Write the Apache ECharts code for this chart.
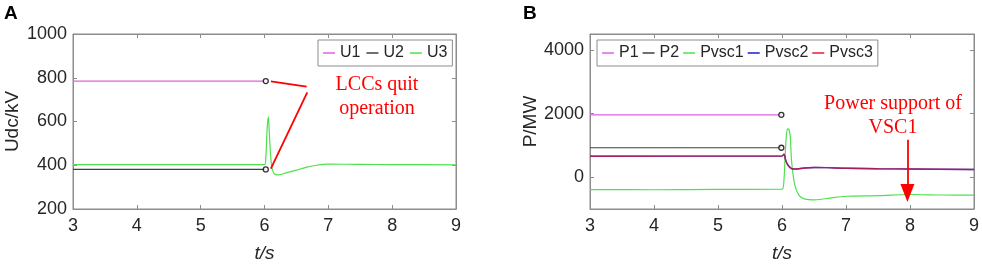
<!DOCTYPE html>
<html>
<head>
<meta charset="utf-8">
<script src="https://cdn.jsdelivr.net/npm/echarts@6/dist/echarts.min.js"></script>
<style>
  html, body { margin: 0; padding: 0; background: #fff; }
  #main { width: 982px; height: 268px; }
</style>
</head>
<body>
<div id="main"></div>
<script>
// Panel A: DC voltages (kV)
const uT1 = [3, 6.02];
const u1 = [785, 785];
const u2 = [381, 381];
const u3T = [3, 6.0, 6.02, 6.04, 6.06, 6.08, 6.11, 6.15, 6.22, 6.35, 6.5, 6.65, 6.82, 7.0, 7.5, 8, 9];
const u3 = [403, 403, 430, 560, 622, 520, 400, 362, 356, 366, 378, 390, 400, 405, 404, 403, 402];

// Panel B: powers (MW)
const pT1 = [3, 6.0];
const p1 = [1960, 1960];
const p2 = [925, 925];
const pvsc1T = [3, 4, 5, 6.0, 6.03, 6.05, 6.07, 6.09, 6.11, 6.13, 6.15, 6.2, 6.27, 6.35, 6.48, 6.7, 7.0, 7.5, 8, 8.5, 9];
const pvsc1 = [-390, -395, -385, -380, -100, 700, 1350, 1520, 1500, 1250, 500, -250, -580, -680, -715, -670, -600, -580, -545, -560, -565];
const pvscT = [3, 6.0, 6.03, 6.06, 6.1, 6.15, 6.2, 6.35, 6.5, 6.7, 7.0, 7.5, 8, 9];
const pvsc2 = [660, 665, 720, 520, 360, 270, 255, 290, 305, 300, 280, 265, 255, 240];
const pvsc3 = [660, 665, 720, 520, 360, 270, 255, 290, 305, 300, 280, 265, 255, 240];

// annotations (data coordinates)
const circlesA = [[6.02, 785], [6.02, 381]];
const leaderA1 = [[6.10, 783], [6.66, 759]];
const leaderA2 = [[6.10, 385], [6.67, 733]];
const circlesB = [[5.99, 1960], [5.99, 925]];
const arrowB = [[7.96, 1180], [7.96, -500]];

const yTicksB = [0, 2000, 4000];

const pair = (t, v) => t.map((x, i) => [x, v[i]]);

const axisGray = '#8c8c8c';
const labelFont = { fontFamily: 'Liberation Sans, Arial', fontSize: 18, color: '#262626', formatter: v => String(v) };

function xAxisMain(grid) {
  return {
    type: 'value', gridIndex: grid, min: 3, max: 9, interval: 1,
    axisLine: { onZero: false, lineStyle: { color: axisGray } },
    axisTick: { inside: true, length: 4, lineStyle: { color: axisGray } },
    splitLine: { show: false },
    axisLabel: Object.assign({ margin: 8 }, labelFont),
    name: 't/s', nameLocation: 'middle', nameGap: 35,
    nameTextStyle: { fontFamily: 'Liberation Sans, Arial', fontSize: 19, fontStyle: 'italic', color: '#262626' }
  };
}
function xAxisTop(grid) {
  return {
    type: 'value', gridIndex: grid, min: 3, max: 9, interval: 1, position: 'top',
    axisLine: { onZero: false, lineStyle: { color: axisGray } },
    axisTick: { inside: true, length: 4, lineStyle: { color: axisGray } },
    splitLine: { show: false }, axisLabel: { show: false }
  };
}
function legendBox(names, left, gap) {
  return {
    data: names, left: left, top: 40, orient: 'horizontal',
    icon: 'rect', itemWidth: 12, itemHeight: 1.5, itemGap: gap,
    padding: [5, 5], borderColor: axisGray, borderWidth: 1, backgroundColor: '#fff',
    textStyle: { fontFamily: 'Liberation Sans, Arial', fontSize: 16, color: '#262626' }
  };
}

const chart = echarts.init(document.getElementById('main'));
const option = {
  backgroundColor: '#fff',
  animation: false,
  grid: [
    { left: 73, right: 526, top: 34, bottom: 54, show: true, borderColor: axisGray, borderWidth: 1 },
    { left: 590, right: 8, top: 34, bottom: 54, show: true, borderColor: axisGray, borderWidth: 1 }
  ],
  legend: [
    legendBox(['U1', 'U2', 'U3'], 318, 6),
    legendBox(['P1', 'P2', 'Pvsc1', 'Pvsc2', 'Pvsc3'], 597, 4)
  ],
  xAxis: [xAxisMain(0), xAxisTop(0), xAxisMain(1), xAxisTop(1)],
  yAxis: [
    {
      type: 'value', gridIndex: 0, min: 200, max: 1000, interval: 200,
      axisLine: { show: true, onZero: false, lineStyle: { color: axisGray } },
      axisTick: { show: true, inside: true, length: 4, lineStyle: { color: axisGray } },
      splitLine: { show: false },
      axisLabel: Object.assign({ margin: 6 }, labelFont),
      name: 'Udc/kV', nameLocation: 'middle', nameGap: 51,
      nameTextStyle: { fontFamily: 'Liberation Sans, Arial', fontSize: 19, color: '#262626' }
    },
    {
      type: 'value', gridIndex: 0, min: 200, max: 1000, interval: 200, position: 'right',
      axisLine: { show: true, onZero: false, lineStyle: { color: axisGray } },
      axisTick: { show: true, inside: true, length: 4, lineStyle: { color: axisGray } },
      splitLine: { show: false }, axisLabel: { show: false }
    },
    {
      type: 'value', gridIndex: 1, min: -1000, max: 4500,
      axisLine: { show: true, onZero: false, lineStyle: { color: axisGray } },
      axisTick: { show: true, inside: true, length: 4, customValues: yTicksB, lineStyle: { color: axisGray } },
      splitLine: { show: false },
      axisLabel: Object.assign({ margin: 6, customValues: yTicksB }, labelFont),
      name: 'P/MW', nameLocation: 'middle', nameGap: 47,
      nameTextStyle: { fontFamily: 'Liberation Sans, Arial', fontSize: 19, color: '#262626' }
    },
    {
      type: 'value', gridIndex: 1, min: -1000, max: 4500, position: 'right',
      axisLine: { show: true, onZero: false, lineStyle: { color: axisGray } },
      axisTick: { show: true, inside: true, length: 4, customValues: yTicksB, lineStyle: { color: axisGray } },
      splitLine: { show: false }, axisLabel: { show: false }
    }
  ],
  graphic: [
    { type: 'text', left: 4, top: 4, style: { text: 'A', font: 'bold 19px "Liberation Sans", Arial', fill: '#000' } },
    { type: 'text', left: 523, top: 4, style: { text: 'B', font: 'bold 19px "Liberation Sans", Arial', fill: '#000' } },
    { type: 'text', x: 377, y: 97, style: { text: 'LCCs quit\noperation', font: '20px "Liberation Serif", "Times New Roman"', fill: '#ff0000', align: 'center', verticalAlign: 'middle', lineHeight: 24 } },
    { type: 'text', x: 893, y: 116, style: { text: 'Power support of\nVSC1', font: '20px "Liberation Serif", "Times New Roman"', fill: '#ff0000', align: 'center', verticalAlign: 'middle', lineHeight: 24 } }
  ],
  series: [
    { name: 'U1', type: 'line', xAxisIndex: 0, yAxisIndex: 0, data: pair(uT1, u1), showSymbol: false, color: '#e060e0', lineStyle: { width: 1.2 } },
    { name: 'U2', type: 'line', xAxisIndex: 0, yAxisIndex: 0, data: pair(uT1, u2), showSymbol: false, color: '#404040', lineStyle: { width: 1.2 } },
    { name: 'U3', type: 'line', xAxisIndex: 0, yAxisIndex: 0, data: pair(u3T, u3), showSymbol: false, smooth: 0.3, color: '#4ee04e', lineStyle: { width: 1.2 } },
    { type: 'line', xAxisIndex: 0, yAxisIndex: 0, data: leaderA1, showSymbol: false, color: '#ff0000', lineStyle: { width: 1.8 }, silent: true },
    { type: 'line', xAxisIndex: 0, yAxisIndex: 0, data: leaderA2, showSymbol: false, color: '#ff0000', lineStyle: { width: 1.8 }, silent: true },
    { type: 'scatter', xAxisIndex: 0, yAxisIndex: 0, data: circlesA, symbol: 'circle', symbolSize: 5,
      itemStyle: { color: '#fff', borderColor: '#000', borderWidth: 1.3 }, z: 5 },

    { name: 'P1', type: 'line', xAxisIndex: 2, yAxisIndex: 2, data: pair(pT1, p1), showSymbol: false, color: '#e060e0', lineStyle: { width: 1.2 } },
    { name: 'P2', type: 'line', xAxisIndex: 2, yAxisIndex: 2, data: pair(pT1, p2), showSymbol: false, color: '#404040', lineStyle: { width: 1.2 } },
    { name: 'Pvsc1', type: 'line', xAxisIndex: 2, yAxisIndex: 2, data: pair(pvsc1T, pvsc1), showSymbol: false, smooth: 0.3, color: '#4ee04e', lineStyle: { width: 1.2 } },
    { name: 'Pvsc2', type: 'line', xAxisIndex: 2, yAxisIndex: 2, data: pair(pvscT, pvsc2), showSymbol: false, smooth: 0.3, color: '#1a1ad0', lineStyle: { width: 1.4 } },
    { name: 'Pvsc3', type: 'line', xAxisIndex: 2, yAxisIndex: 2, data: pair(pvscT, pvsc3), showSymbol: false, smooth: 0.3, color: '#e02030', lineStyle: { width: 1.4, opacity: 0.7 } },
    { type: 'scatter', xAxisIndex: 2, yAxisIndex: 2, data: circlesB, symbol: 'circle', symbolSize: 5,
      itemStyle: { color: '#fff', borderColor: '#000', borderWidth: 1.3 }, z: 5 },
    { type: 'line', xAxisIndex: 2, yAxisIndex: 2, data: [], silent: true,
      markLine: {
        silent: true, symbol: ['none', 'triangle'], symbolSize: [14, 18],
        lineStyle: { color: '#ff0000', width: 1.8, type: 'solid' }, label: { show: false },
        data: [[{ coord: arrowB[0] }, { coord: arrowB[1] }]]
      }
    }
  ]
};
chart.setOption(option);
</script>
</body>
</html>
